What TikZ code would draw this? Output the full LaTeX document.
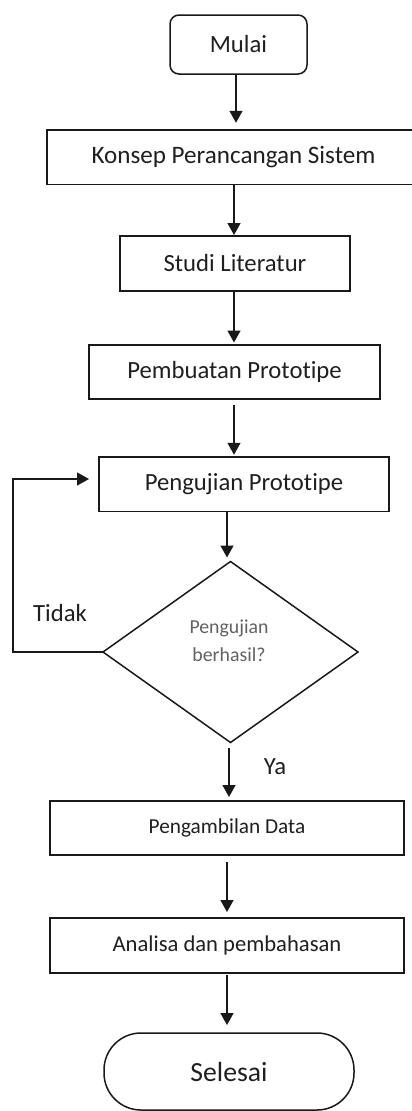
\documentclass[tikz,border=0pt]{standalone}
\usepackage{fontspec}
\setmainfont{Carlito}[Ligatures=NoCommon]
\usetikzlibrary{shapes.geometric,arrows.meta}
\begin{document}
\begin{tikzpicture}[x=1pt,y=-1pt,
  box/.style={draw=black!90, line width=1.5pt, minimum height=54pt, inner sep=0pt, outer sep=0pt,
    text=black!88, font=\fontsize{24.7}{28}\selectfont},
  decbox/.style={diamond, draw=black!90, line width=1.5pt, minimum width=255pt, minimum height=181pt,
    inner sep=0pt, outer sep=0pt, aspect=1.41},
  dectxt/.style={align=center, text=black!62, inner sep=0pt, font=\fontsize{19.8}{28}\selectfont},
  lbl/.style={text=black!88, inner sep=0pt, font=\fontsize{24.7}{28}\selectfont},
  arr/.style={line width=1.5pt, draw=black!90, -{Triangle[length=12pt,width=13pt]}}]
\useasboundingbox (0,0) rectangle (412,1111);

\node[box, rounded corners=9pt, minimum width=137pt, minimum height=59pt] (mulai) at (238.5,44.5) {Mulai};
\node[box, minimum width=373pt, minimum height=54.5pt, font=\fontsize{25.1}{28}\selectfont] (konsep) at (233.5,157) {Konsep Perancangan Sistem};
\node[box, minimum width=230pt, minimum height=55pt] (studi) at (235,263.5) {Studi Literatur};
\node[box, minimum width=291pt] (buat) at (234.5,372) {Pembuatan Prototipe};
\node[box, minimum width=290pt, minimum height=54.5pt] (uji) at (244,484) {Pengujian Prototipe};
\node[decbox] (dec) at (230.5,652) {};
\node[dectxt] (dectext) at (229,641) {Pengujian\\berhasil?};
\node[box, minimum width=354pt, font=\fontsize{21.3}{26}\selectfont] (ambil) at (227,828) {Pengambilan Data};
\node[box, minimum width=354pt, minimum height=55pt, font=\fontsize{22.6}{26}\selectfont] (analisa) at (227,945.5) {Analisa dan pembahasan};
\node[box, rounded corners=37pt, minimum width=250pt, minimum height=77pt, font=\fontsize{27.7}{30}\selectfont] (selesai) at (229,1071.5) {Selesai};

\node[lbl] (tidak) at (60,613) {Tidak};
\node[lbl] (ya) at (275,767) {Ya};

\coordinate (a1) at (236,0);
\coordinate (a2) at (234,0);
\coordinate (a3) at (227,0);
\coordinate (a4) at (229,0);
\coordinate (lx) at (13,0);

\draw[arr, shorten >=7pt] (mulai.south -| a1) -- (konsep.north -| a1);
\draw[arr, shorten >=1pt] (konsep.south -| a2) -- (studi.north -| a2);
\draw[arr, shorten <=1pt, shorten >=2.5pt] (studi.south -| a2) -- (buat.north -| a2);
\draw[arr, shorten <=6pt, shorten >=2pt] (buat.south -| a2) -- (uji.north -| a2);
\draw[arr, shorten <=1pt, shorten >=4pt] (uji.south -| a3) -- (dec.north -| a3);
\draw[arr, shorten <=5pt, shorten >=4pt] (dec.south -| a4) -- (ambil.north -| a4);
\draw[arr, shorten <=7pt, shorten >=6pt] (ambil.south -| a3) -- (analisa.north -| a3);
\draw[arr, shorten <=2pt, shorten >=8pt] (analisa.south -| a3) -- (selesai.north -| a3);
\draw[arr, shorten >=10pt] (dec.west) -- (dec.west -| lx) |- ([yshift=5pt]uji.west);
\end{tikzpicture}
\end{document}
